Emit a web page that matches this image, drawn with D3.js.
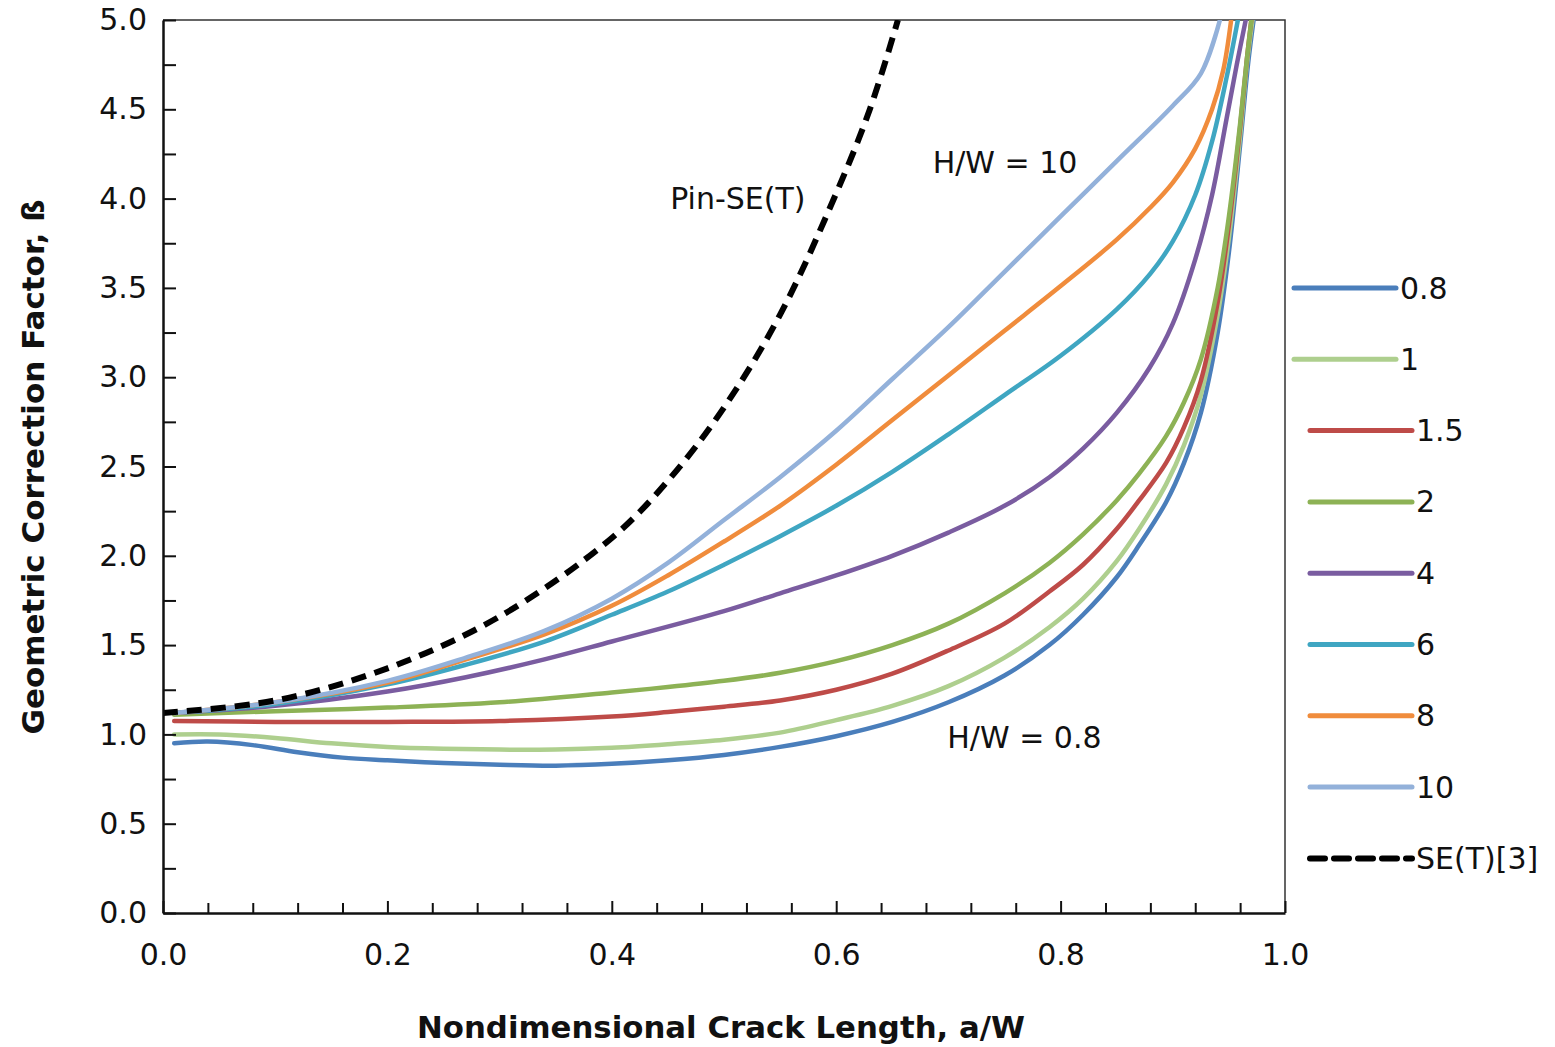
<!DOCTYPE html>
<html>
<head>
<meta charset="utf-8">
<script src="https://cdn.jsdelivr.net/npm/d3@7"></script>
<style>
  body { margin: 0; background: #fff; }
  text { font-family: "DejaVu Sans", sans-serif; fill: #111; }
</style>
</head>
<body>
<div id="chart"></div>
<script>
// H/W series, values as [a/W, beta]
const hwLabels = ['0.8', '1', '1.5', '2', '4', '6', '8', '10'];
const hwColors = ['#4A7EBB', '#AECF8E', '#BE4B48', '#8DB255', '#7A5CA0', '#3FA6C2', '#F08C3C', '#93B1DA'];

const beta08 = [[0.01,0.95],[0.04,0.96],[0.08,0.94],[0.12,0.90],[0.16,0.87],[0.2,0.855],[0.25,0.84],[0.3,0.83],[0.35,0.825],[0.4,0.835],[0.45,0.855],[0.5,0.885],[0.55,0.93],[0.6,0.99],[0.65,1.07],[0.7,1.18],[0.75,1.33],[0.79,1.50],[0.82,1.67],[0.85,1.88],[0.87,2.06],[0.894,2.30],[0.91,2.52],[0.925,2.80],[0.94,3.25],[0.95,3.7],[0.96,4.3],[0.967,4.75],[0.972,5.0]];
const beta1 = [[0.01,1.00],[0.05,1.00],[0.1,0.98],[0.15,0.95],[0.2,0.93],[0.25,0.92],[0.3,0.915],[0.35,0.915],[0.4,0.925],[0.45,0.945],[0.5,0.97],[0.55,1.01],[0.6,1.08],[0.65,1.16],[0.7,1.27],[0.75,1.43],[0.79,1.60],[0.82,1.76],[0.85,1.97],[0.87,2.15],[0.894,2.40],[0.91,2.62],[0.925,2.90],[0.94,3.35],[0.95,3.78],[0.96,4.35],[0.966,4.75],[0.971,5.0]];
const beta15 = [[0.01,1.075],[0.1,1.07],[0.2,1.07],[0.3,1.075],[0.4,1.10],[0.45,1.125],[0.5,1.155],[0.55,1.19],[0.6,1.25],[0.65,1.34],[0.7,1.47],[0.75,1.62],[0.79,1.80],[0.82,1.95],[0.85,2.15],[0.87,2.31],[0.894,2.52],[0.91,2.72],[0.925,2.98],[0.94,3.42],[0.95,3.85],[0.96,4.4],[0.966,4.78],[0.97,5.0]];
const beta2 = [[0.01,1.11],[0.1,1.13],[0.2,1.15],[0.3,1.18],[0.4,1.235],[0.45,1.265],[0.5,1.30],[0.55,1.345],[0.6,1.41],[0.65,1.50],[0.7,1.62],[0.75,1.79],[0.79,1.96],[0.82,2.12],[0.85,2.31],[0.87,2.46],[0.894,2.67],[0.91,2.86],[0.925,3.10],[0.94,3.50],[0.95,3.90],[0.96,4.42],[0.966,4.78],[0.97,5.0]];
const beta4 = [[0.01,1.12],[0.1,1.16],[0.2,1.24],[0.27,1.32],[0.34,1.42],[0.4,1.52],[0.5,1.69],[0.55,1.79],[0.6,1.89],[0.65,2.00],[0.7,2.13],[0.75,2.28],[0.79,2.44],[0.82,2.60],[0.85,2.80],[0.879,3.05],[0.9,3.30],[0.92,3.66],[0.935,4.02],[0.948,4.45],[0.957,4.75],[0.965,5.0]];
const beta6 = [[0.01,1.12],[0.1,1.17],[0.2,1.28],[0.27,1.39],[0.34,1.52],[0.4,1.67],[0.45,1.80],[0.5,1.95],[0.55,2.11],[0.6,2.28],[0.65,2.47],[0.7,2.68],[0.75,2.90],[0.8,3.12],[0.85,3.38],[0.88,3.58],[0.9,3.76],[0.92,4.02],[0.935,4.32],[0.948,4.68],[0.958,5.0]];
const beta8 = [[0.01,1.12],[0.1,1.18],[0.2,1.29],[0.27,1.42],[0.34,1.56],[0.4,1.72],[0.45,1.89],[0.5,2.08],[0.55,2.28],[0.6,2.51],[0.65,2.76],[0.7,3.01],[0.75,3.26],[0.8,3.51],[0.85,3.77],[0.88,3.95],[0.9,4.09],[0.92,4.28],[0.935,4.50],[0.945,4.72],[0.952,5.0]];
const beta10 = [[0.01,1.12],[0.1,1.18],[0.2,1.30],[0.27,1.43],[0.34,1.58],[0.4,1.76],[0.45,1.96],[0.5,2.20],[0.55,2.44],[0.6,2.70],[0.65,2.99],[0.7,3.28],[0.75,3.59],[0.8,3.90],[0.85,4.21],[0.9,4.52],[0.925,4.70],[0.942,5.0]];
const hwSeries = [beta08, beta1, beta15, beta2, beta4, beta6, beta8, beta10];

// SE(T) reference curve (dashed)
const betaSET = [[0.0,1.12],[0.1,1.19],[0.2,1.37],[0.3,1.66],[0.4,2.10],[0.45,2.42],[0.5,2.83],[0.55,3.35],[0.6,4.03],[0.63,4.50],[0.655,5.0]];

const xTicks = [0, 0.2, 0.4, 0.6, 0.8, 1.0];
const yTicks = [0, 0.5, 1.0, 1.5, 2.0, 2.5, 3.0, 3.5, 4.0, 4.5, 5.0];

const width = 1555, height = 1047;
const margin = {top: 20, right: 270, bottom: 134, left: 163};

const svg = d3.select('#chart').append('svg')
  .attr('width', width)
  .attr('height', height);

svg.append('rect').attr('width', width).attr('height', height).attr('fill', '#fff');

const x = d3.scaleLinear().domain([0, 1]).range([margin.left, width - margin.right]);
const y = d3.scaleLinear().domain([0, 5]).range([height - margin.bottom, margin.top]);

svg.append('clipPath').attr('id', 'plot-clip')
  .append('rect')
  .attr('x', x(0)).attr('y', y(5))
  .attr('width', x(1) - x(0)).attr('height', y(0) - y(5));

// frame (top and right)
svg.append('path')
  .attr('d', `M${x(0)},${y(5)}H${x(1)}V${y(0)}`)
  .attr('fill', 'none')
  .attr('stroke', '#333')
  .attr('stroke-width', 1.5);

// lines
const line = d3.line()
  .x(d => x(d[0]))
  .y(d => y(d[1]))
  .curve(d3.curveCatmullRom.alpha(0.5));

const plot = svg.append('g').attr('clip-path', 'url(#plot-clip)');

plot.selectAll('path.hw')
  .data(hwSeries)
  .join('path')
  .attr('class', 'hw')
  .attr('d', line)
  .attr('fill', 'none')
  .attr('stroke', (d, i) => hwColors[i])
  .attr('stroke-width', 4.5)
  .attr('stroke-linecap', 'round');

plot.append('path')
  .datum(betaSET)
  .attr('d', line)
  .attr('fill', 'none')
  .attr('stroke', '#000')
  .attr('stroke-width', 6)
  .attr('stroke-dasharray', '15,9');

// axes
svg.append('g')
  .attr('transform', `translate(0,${y(0)})`)
  .call(d3.axisBottom(x).tickValues(xTicks).tickSize(-12).tickSizeOuter(0).tickPadding(31).tickFormat(d3.format('.1f')));

svg.append('g')
  .attr('transform', `translate(0,${y(0)})`)
  .call(d3.axisBottom(x).tickValues(d3.range(1, 25).filter(i => i % 5 !== 0).map(i => i * 0.04)).tickSize(-10).tickSizeOuter(0).tickFormat(''))
  .call(g => g.select('.domain').remove());

svg.append('g')
  .attr('transform', `translate(${x(0)},0)`)
  .call(d3.axisLeft(y).tickValues(yTicks).tickSize(-13).tickSizeOuter(0).tickPadding(16).tickFormat(d3.format('.1f')));

svg.append('g')
  .attr('transform', `translate(${x(0)},0)`)
  .call(d3.axisLeft(y).tickValues(d3.range(0.25, 5, 0.5)).tickSize(-13).tickSizeOuter(0).tickFormat(''))
  .call(g => g.select('.domain').remove());

svg.selectAll('.domain').attr('stroke', '#111').attr('stroke-width', 2.5);
svg.selectAll('.tick line').attr('stroke', '#111').attr('stroke-width', 2);
svg.selectAll('.tick text')
  .attr('font-size', 30)
  .attr('font-family', '"DejaVu Sans", sans-serif')
  .attr('fill', '#111');

// axis titles
svg.append('text')
  .attr('x', 721)
  .attr('y', 1038)
  .attr('text-anchor', 'middle')
  .attr('font-size', 30)
  .attr('font-weight', 'bold')
  .attr('textLength', 608)
  .attr('lengthAdjust', 'spacingAndGlyphs')
  .text('Nondimensional Crack Length, a/W');

svg.append('text')
  .attr('transform', `translate(44,467) rotate(-90)`)
  .attr('text-anchor', 'middle')
  .attr('font-size', 30)
  .attr('font-weight', 'bold')
  .attr('textLength', 535)
  .attr('lengthAdjust', 'spacingAndGlyphs')
  .text('Geometric Correction Factor, ß');

// annotations
svg.append('text').attr('x', x(0.452)).attr('y', y(4.0)).attr('dy', '0.35em')
  .attr('font-size', 30).text('Pin-SE(T)');
svg.append('text').attr('x', x(0.686)).attr('y', y(4.2)).attr('dy', '0.35em')
  .attr('font-size', 30).text('H/W = 10');
svg.append('text').attr('x', x(0.699)).attr('y', y(0.98)).attr('dy', '0.35em')
  .attr('font-size', 30).text('H/W = 0.8');

// legend
const legendLabels = hwLabels.concat(['SE(T)[3]']);
const legendColors = hwColors.concat(['#000']);

const legend = svg.append('g');
const rows = legend.selectAll('g')
  .data(legendLabels)
  .join('g')
  .attr('transform', (d, i) => `translate(${i < 2 ? 1294 : 1310},${288 + i * 71.3})`);

rows.append('line')
  .attr('x1', 0).attr('x2', 102)
  .attr('stroke', (d, i) => legendColors[i])
  .attr('stroke-width', (d, i) => i === 8 ? 6 : 5)
  .attr('stroke-linecap', 'round')
  .attr('stroke-dasharray', (d, i) => i === 8 ? '15,9' : null);

rows.append('text')
  .attr('x', 106)
  .attr('dy', '0.35em')
  .attr('font-size', 30)
  .text(d => d);
</script>
</body>
</html>
